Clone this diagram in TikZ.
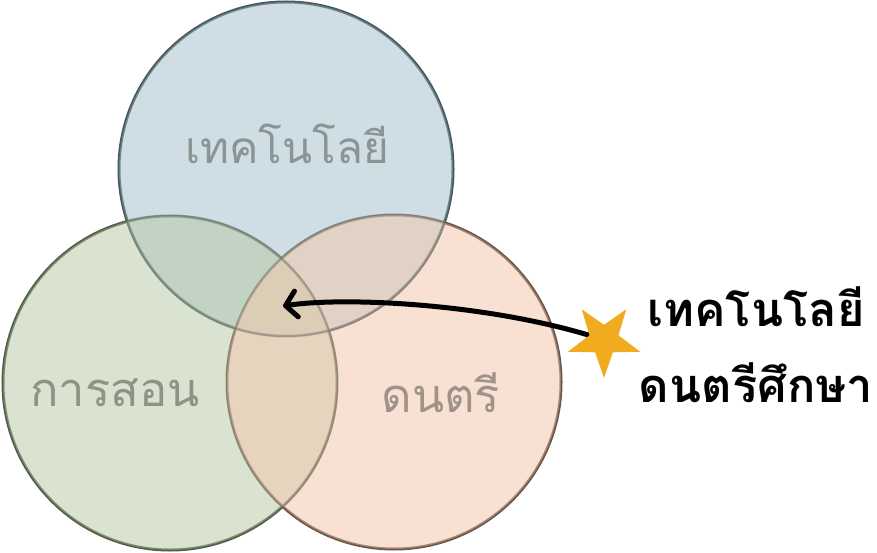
\documentclass[tikz,border=0pt]{standalone}
\usepackage{fontspec}
\newfontfamily\thaifont[Script=Thai]{Loma}
\usetikzlibrary{shapes.geometric,arrows.meta}
\definecolor{topfill}{RGB}{165,194,205}
\definecolor{leftfill}{RGB}{186,204,170}
\definecolor{rightfill}{RGB}{242,200,175}
\definecolor{topline}{RGB}{70,86,92}
\definecolor{leftline}{RGB}{82,92,72}
\definecolor{rightline}{RGB}{105,84,72}
\definecolor{toptext}{RGB}{138,148,148}
\definecolor{lefttext}{RGB}{143,147,133}
\definecolor{righttext}{RGB}{160,146,136}
\definecolor{stargold}{RGB}{240,172,30}
\tikzset{
  ring/.style={line width=3pt},
  disk/.style={fill opacity=0.55},
  faint/.style={line width=2pt, draw opacity=0.3},
  grey label/.style={font=\thaifont\fontsize{44}{48}\selectfont, anchor=base, inner sep=0pt},
  grey big/.style={font=\thaifont\fontsize{47}{50}\selectfont, anchor=base, inner sep=0pt},
  bold label/.style={font=\thaifont\bfseries\fontsize{47}{50}\selectfont, anchor=base, inner sep=0pt},
}
\begin{document}
\begin{tikzpicture}[x=1pt,y=-1pt]
\useasboundingbox (0,0) rectangle (877,553);
% circle centres
\coordinate (ct) at (286,169);
\coordinate (cl) at (170,383);
\coordinate (cr) at (394,382);
% outlines first
\draw[ring, topline] (ct) circle (167);
\draw[ring, leftline] (cl) circle (167);
\draw[ring, rightline] (cr) circle (167);
% fills
\fill[disk, topfill] (ct) circle (167);
\fill[disk, leftfill] (cl) circle (167);
\fill[disk, rightfill] (cr) circle (167);
% faint outlines again
\draw[faint, topline] (ct) circle (167);
\draw[faint, leftline] (cl) circle (167);
\draw[faint, rightline] (cr) circle (167);
% labels
\node[grey label, text=toptext] (tech) at (287,164) {เทคโนโลยี};
\node[grey big, text=lefttext] (teach) at (115,406) {การสอน};
\node[grey big, text=righttext] (music) at (441,412) {ดนตรี};
\node[bold label] (line1) at (756,326) {เทคโนโลยี};
\node[bold label] (line2) at (756,402) {ดนตรีศึกษา};
% arrow
\coordinate (sc) at (604,340);
\coordinate (tip) at (283,306);
\draw[line width=5pt, line cap=round, -{Straight Barb[length=11pt,width=26pt,round]}]
  (sc) .. controls (500,305) and (350,296) .. (tip);
\node[star, star points=5, star point ratio=2.5, minimum size=76pt, inner sep=0pt,
      fill=stargold, shape border rotate=180] (star) at (sc) {};
\end{tikzpicture}
\end{document}
